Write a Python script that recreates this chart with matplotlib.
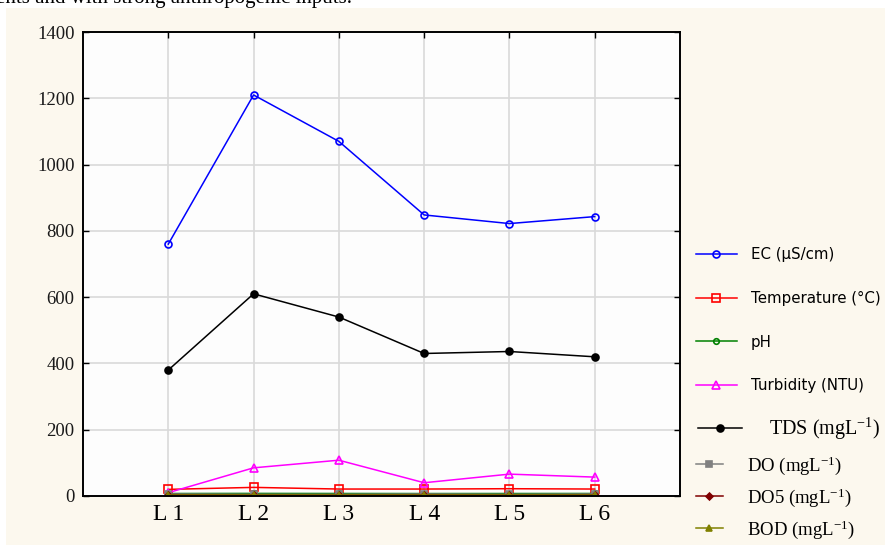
import matplotlib
matplotlib.use("Agg")
import matplotlib.pyplot as plt
from matplotlib.patches import Rectangle

plt.rcParams["mathtext.fontset"] = "custom"
plt.rcParams["mathtext.rm"] = "Liberation Serif"
plt.rcParams["mathtext.it"] = "Liberation Serif:italic"
plt.rcParams["mathtext.bf"] = "Liberation Serif:bold"

sites = ["L 1", "L 2", "L 3", "L 4", "L 5", "L 6"]
ec = [760, 1210, 1070, 848, 822, 843]
temperature = [20, 26, 21, 21, 22, 21]
ph = [7.5, 7.8, 7.6, 7.4, 7.5, 7.6]
turbidity = [10, 85, 108, 40, 66, 57]
tds = [380, 610, 540, 430, 436, 420]
do = [6, 5, 5, 6, 5, 6]
do5 = [4, 3, 3, 4, 3, 4]
bod = [2, 2, 2, 2, 2, 2]
yticks = [0, 200, 400, 600, 800, 1000, 1200, 1400]

cream = "#fcf8ee"
fig = plt.figure(figsize=(8.85, 5.45), dpi=100)
fig.patch.set_facecolor("white")
fig.patches.append(Rectangle((6 / 885, 0), 1, 1 - 8 / 545, transform=fig.transFigure,
                             facecolor=cream, edgecolor="none", zorder=-10))
fig.text(-0.004, 1 - 3 / 545, "ents and with strong anthropogenic inputs.",
         fontsize=15, family="Liberation Serif", va="baseline", ha="left")

ax = fig.add_axes([83 / 885, 1 - 496 / 545, (680 - 83) / 885, (496 - 32) / 545])
ax.set_facecolor("#fdfdfd")
x = list(range(1, len(sites) + 1))

series = [
    (ec, "EC (µS/cm)", "#0000ff", "o", "none", 5),
    (temperature, "Temperature (°C)", "#ff0000", "s", "none", 6),
    (ph, "pH", "#008000", "o", "none", 4),
    (turbidity, "Turbidity (NTU)", "#ff00ff", "^", "none", 6),
    (tds, "TDS (mgL$^{-1}$)", "#000000", "o", "#000000", 5),
    (do, "DO (mgL$^{-1}$)", "#808080", "s", "#808080", 5),
    (do5, "DO5 (mgL$^{-1}$)", "#800000", "D", "#800000", 3.5),
    (bod, "BOD (mgL$^{-1}$)", "#808000", "^", "#808000", 5),
]

handles = []
for vals, lab, col, mk, fc, ms in series:
    h, = ax.plot(x, vals, color=col, marker=mk, markerfacecolor=fc,
                 markeredgecolor=col, markersize=ms, linewidth=1.1, label=lab,
                 markeredgewidth=1.2)
    handles.append(h)

ax.set_xlim(0, 7)
ax.set_ylim(0, 1400)
ax.set_xticks(x)
ax.set_xticklabels(sites)
ax.set_yticks(yticks)
ax.grid(True, color="#d9d9d9", linewidth=1.2)
ax.set_axisbelow(True)
ax.tick_params(direction="in", top=True, right=True, length=4, width=1, pad=6)
for lbl in ax.get_yticklabels():
    lbl.set_family("Liberation Serif")
    lbl.set_fontsize(13.5)
    lbl.set_color("#1a1a1a")
for lbl in ax.get_xticklabels():
    lbl.set_family("Liberation Serif")
    lbl.set_fontsize(17)
for s in ax.spines.values():
    s.set_linewidth(1.4)

leg1 = fig.legend(handles[:4], [h.get_label() for h in handles[:4]],
                  loc="upper left", bbox_to_anchor=(690 / 885, 1 - 241 / 545),
                  frameon=False, labelspacing=1.92, handlelength=2.7,
                  handletextpad=0.95, borderaxespad=0,
                  prop={"family": "DejaVu Sans", "size": 10.8})
leg2 = fig.legend(handles[4:5], [handles[4].get_label()],
                  loc="upper left", bbox_to_anchor=(690 / 885, 1 - 408 / 545),
                  frameon=False, handlelength=2.2, handletextpad=1.3,
                  borderaxespad=0,
                  prop={"family": "Liberation Serif", "size": 14.5})
leg3 = fig.legend(handles[5:], [h.get_label() for h in handles[5:]],
                  loc="upper left", bbox_to_anchor=(688 / 885, 1 - 447 / 545),
                  frameon=False, labelspacing=0.5, handlelength=1.45,
                  handletextpad=1.3, borderaxespad=0,
                  prop={"family": "Liberation Serif", "size": 13.5})

fig.savefig("out.png", dpi=100, facecolor=fig.get_facecolor())
